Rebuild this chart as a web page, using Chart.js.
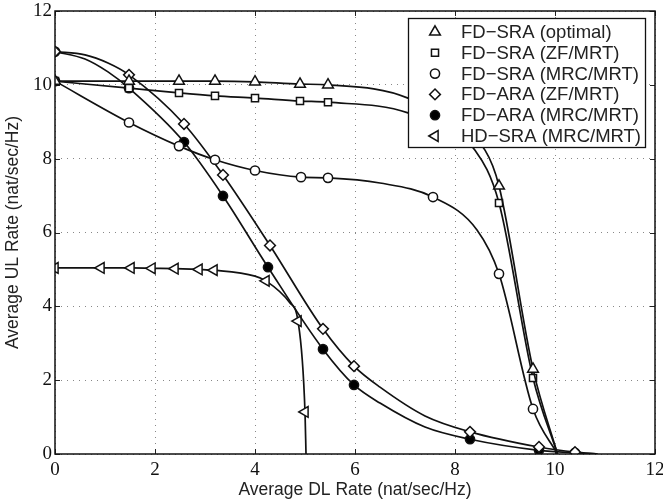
<!DOCTYPE html>
<html><head><meta charset="utf-8">
<script src="https://cdn.jsdelivr.net/npm/chart.js@4/dist/chart.umd.min.js"></script>
<style>html,body{margin:0;padding:0;background:#fff}#wrap{width:663px;height:501px}</style>
</head><body><div id="wrap"><canvas id="c" width="663" height="501"></canvas></div>
<script>
// ---- data ----
const xTicks = [0, 2, 4, 6, 8, 10, 12];
const yTicks = [0, 2, 4, 6, 8, 10, 12];
const seriesLabels = ['FD\u2212SRA (optimal)', 'FD\u2212SRA (ZF/MRT)', 'FD\u2212SRA (MRC/MRT)',
                      'FD\u2212ARA (ZF/MRT)', 'FD\u2212ARA (MRC/MRT)', 'HD\u2212SRA (MRC/MRT)'];
const xTitle = 'Average DL Rate (nat/sec/Hz)';
const yTitle = 'Average UL Rate (nat/sec/Hz)';

const sraOptX = [0, 1.48, 2.48, 3.2, 4.0, 4.9, 5.46, 7.06, 8.6, 8.88, 9.56, 10.05];
const sraOptY = [10.1, 10.1, 10.1, 10.1, 10.08, 10.02, 10.0, 9.64, 8.23, 7.26, 2.3, 0];
const sraOptMarked = [1, 1, 1, 1, 1, 1, 1, 0, 0, 1, 1, 0];

const sraZfX = [0, 1.48, 2.48, 3.2, 4.0, 4.9, 5.46, 7.06, 8.4, 8.88, 9.56, 10.05];
const sraZfY = [10.1, 9.91, 9.78, 9.70, 9.64, 9.56, 9.53, 9.24, 8.23, 6.8, 2.06, 0];
const sraZfMarked = [1, 1, 1, 1, 1, 1, 1, 0, 0, 1, 1, 0];

const sraMrcX = [0, 1.48, 2.48, 3.2, 4.0, 4.92, 5.46, 6.5, 7.56, 8.44, 8.88, 9.56, 10.05];
const sraMrcY = [10.1, 8.98, 8.34, 7.97, 7.68, 7.5, 7.48, 7.34, 6.96, 6.07, 4.88, 1.22, 0];
const sraMrcMarked = [1, 1, 1, 1, 1, 1, 1, 0, 1, 0, 1, 1, 0];

const araZfX = [0, 0.6, 1.06, 1.48, 2.58, 3.36, 4.3, 5.36, 5.98, 6.5, 7.4, 8.3, 9.68, 10.4, 10.85];
const araZfY = [10.9, 10.81, 10.59, 10.27, 8.94, 7.56, 5.65, 3.39, 2.38, 1.81, 1.03, 0.6, 0.19, 0.05, 0];
const araZfMarked = [1, 0, 0, 1, 1, 1, 1, 1, 1, 0, 0, 1, 1, 1, 0];

const araMrcX = [0, 0.6, 1.06, 1.48, 2.58, 3.36, 4.26, 5.36, 5.98, 6.5, 7.4, 8.3, 9.68, 10.4, 10.85];
const araMrcY = [10.9, 10.7, 10.35, 9.91, 8.45, 6.99, 5.06, 2.84, 1.87, 1.38, 0.73, 0.4, 0.1, 0.03, 0];
const araMrcMarked = [1, 0, 0, 1, 1, 1, 1, 1, 1, 0, 0, 1, 1, 1, 0];

const hdX = [0, 0.92, 1.52, 1.94, 2.4, 2.88, 3.18, 4.0, 4.22, 4.7, 4.86, 5.0, 5.02];
const hdY = [5.04, 5.04, 5.04, 5.03, 5.02, 5.0, 4.98, 4.82, 4.69, 4.09, 3.6, 1.14, 0];
const hdMarked = [1, 1, 1, 1, 1, 1, 1, 0, 1, 0, 1, 1, 0];

// ---- styles ----
const markerDefs = [
  {style: 'triangle', r: 6.2, rot: 0, fill: '#fff'},
  {style: 'rect', r: 5, rot: 0, fill: '#fff'},
  {style: 'circle', r: 4.6, rot: 0, fill: '#fff'},
  {style: 'rectRot', r: 5.4, rot: 0, fill: '#fff'},
  {style: 'circle', r: 4.6, rot: 0, fill: '#000'},
  {style: 'triangle', r: 6.2, rot: -90, fill: '#fff'}
];
const seriesData = [
  [sraOptX, sraOptY, sraOptMarked],
  [sraZfX, sraZfY, sraZfMarked],
  [sraMrcX, sraMrcY, sraMrcMarked],
  [araZfX, araZfY, araZfMarked],
  [araMrcX, araMrcY, araMrcMarked],
  [hdX, hdY, hdMarked]
];

const datasets = seriesData.map((s, i) => {
  const m = markerDefs[i];
  const marked = s[2];
  return {
    label: seriesLabels[i],
    data: s[0].map((x, k) => ({x: x, y: s[1][k]})),
    borderColor: '#111',
    borderWidth: 1.7,
    cubicInterpolationMode: 'monotone',
    pointStyle: m.style,
    rotation: m.rot,
    pointRadius: ctx => marked[ctx.dataIndex] ? m.r : 0,
    pointBorderWidth: 1.5,
    pointBorderColor: '#111',
    pointBackgroundColor: m.fill,
    showLine: true,
    fill: false
  };
});

function drawMarker(ctx, m, x, y) {
  ctx.save();
  ctx.lineWidth = 1.5;
  ctx.strokeStyle = '#111';
  ctx.fillStyle = m.fill;
  ctx.beginPath();
  const r = m.r;
  if (m.style === 'circle') {
    ctx.arc(x, y, r, 0, Math.PI * 2);
  } else if (m.style === 'rect') {
    const s = r * Math.SQRT1_2;
    ctx.rect(x - s, y - s, 2 * s, 2 * s);
  } else if (m.style === 'rectRot') {
    ctx.moveTo(x, y - r); ctx.lineTo(x + r, y); ctx.lineTo(x, y + r); ctx.lineTo(x - r, y); ctx.closePath();
  } else if (m.style === 'triangle') {
    let a = m.rot * Math.PI / 180;
    for (let k = 0; k < 3; k++) {
      const px = x + Math.sin(a) * r, py = y - Math.cos(a) * r;
      if (k === 0) ctx.moveTo(px, py); else ctx.lineTo(px, py);
      a += 2 * Math.PI / 3;
    }
    ctx.closePath();
  }
  ctx.fill();
  ctx.stroke();
  ctx.restore();
}

const framePlugin = {
  id: 'frame',
  beforeDatasetsDraw(chart) {
    const {ctx, chartArea: a, scales} = chart;
    ctx.save();
    ctx.strokeStyle = '#222';
    ctx.lineWidth = 1;
    const tl = 5;
    xTicks.forEach(v => {
      const p = Math.round(scales.x.getPixelForValue(v)) + 0.5;
      ctx.beginPath();
      ctx.moveTo(p, a.bottom); ctx.lineTo(p, a.bottom - tl);
      ctx.moveTo(p, a.top); ctx.lineTo(p, a.top + tl);
      ctx.stroke();
    });
    yTicks.forEach(v => {
      const p = Math.round(scales.y.getPixelForValue(v)) + 0.5;
      ctx.beginPath();
      ctx.moveTo(a.left, p); ctx.lineTo(a.left + tl, p);
      ctx.moveTo(a.right, p); ctx.lineTo(a.right - tl, p);
      ctx.stroke();
    });
    ctx.restore();
  },
  afterDatasetsDraw(chart) {
    const {ctx, chartArea: a} = chart;
    ctx.save();
    ctx.strokeStyle = '#111';
    ctx.lineWidth = 1.5;
    ctx.strokeRect(a.left, a.top, a.right - a.left, a.bottom - a.top);
    // legend box
    const lx = 408, ly = 18, lw = 237, lh = 129;
    ctx.fillStyle = '#fff';
    ctx.fillRect(lx, ly, lw, lh);
    ctx.lineWidth = 1.3;
    ctx.strokeRect(lx + 0.5, ly + 0.5, lw, lh);
    ctx.font = '18.5px "Liberation Sans", Arial, sans-serif';
    ctx.textBaseline = 'middle';
    ctx.textAlign = 'left';
    seriesLabels.forEach((t, i) => {
      const y = ly + 14 + i * 20.8;
      drawMarker(ctx, markerDefs[i], lx + 27, y);
      ctx.fillStyle = '#222';
      ctx.fillText(t, lx + 53, y + 1);
    });
    ctx.restore();
  }
};

new Chart(document.getElementById('c'), {
  type: 'scatter',
  data: {datasets: datasets},
  options: {
    responsive: false,
    devicePixelRatio: 1,
    animation: false,
    events: [],
    layout: {padding: {top: 11, right: 8, left: 0, bottom: 0}},
    plugins: {legend: {display: false}, tooltip: {enabled: false}},
    scales: {
      x: {
        type: 'linear', min: 0, max: 12,
        afterBuildTicks: s => { s.ticks = xTicks.map(v => ({value: v})); },
        afterFit: s => { s.height = 47; s.paddingLeft = 0; s.paddingRight = 0; },
        ticks: {color: '#111', font: {family: '"Liberation Serif", "Times New Roman", serif', size: 19}, padding: 5, maxRotation: 0},
        grid: {color: '#888', lineWidth: 1, drawTicks: false},
        border: {display: false, dash: [1, 5]},
        title: {display: true, text: xTitle, color: '#222', font: {family: '"Liberation Sans", Arial, sans-serif', size: 17.5}, padding: {top: 0, bottom: 0}}
      },
      y: {
        type: 'linear', min: 0, max: 12,
        afterBuildTicks: s => { s.ticks = yTicks.map(v => ({value: v})); },
        afterFit: s => { s.width = 55; s.paddingTop = 0; s.paddingBottom = 0; },
        ticks: {color: '#111', font: {family: '"Liberation Serif", "Times New Roman", serif', size: 19}, padding: 3},
        grid: {color: '#888', lineWidth: 1, drawTicks: false},
        border: {display: false, dash: [1, 5]},
        title: {display: true, text: yTitle, color: '#222', font: {family: '"Liberation Sans", Arial, sans-serif', size: 17.5}, padding: {top: 3, bottom: 0}}
      }
    }
  },
  plugins: [framePlugin]
});
</script>
</body></html>
